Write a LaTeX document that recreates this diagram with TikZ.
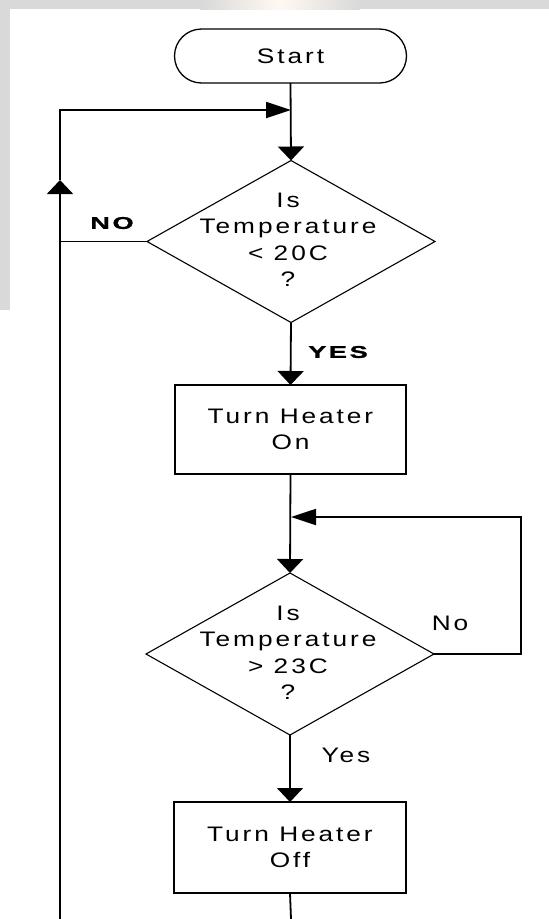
\documentclass[tikz,border=0pt]{standalone}
\usepackage{fontspec}
\setmainfont{Liberation Sans}[FakeStretch=1.25, LetterSpace=14]
\newfontfamily\tagfont{Liberation Sans}[FakeStretch=1.6, LetterSpace=15, FakeBold=1.2]
\usetikzlibrary{shapes.geometric, arrows.meta}

\tikzset{
  flow/.style={line width=1.8pt, draw=black},
  vtip/.style={-{Triangle[width=26pt,length=14pt]}},
  htip/.style={-{Triangle[width=16pt,length=25pt]}},
  terminal/.style={draw, line width=1.3pt, rectangle, rounded corners=27pt,
    minimum width=232pt, minimum height=54pt, outer sep=0pt,
    font=\fontsize{21}{24}\selectfont},
  process/.style={draw, line width=1.8pt, rectangle, minimum width=231pt,
    minimum height=89pt, outer sep=0pt, align=center,
    font=\fontsize{21}{26.5}\selectfont},
  decision/.style={draw, diamond, line width=1.1pt, minimum width=288pt,
    minimum height=162pt, inner sep=0pt, outer sep=0pt},
  body/.style={align=center, inner sep=0pt, font=\fontsize{21}{26.5}\selectfont},
  tag/.style={inner sep=0pt, font=\tagfont\bfseries\fontsize{17}{18}\selectfont},
  note/.style={inner sep=0pt, font=\fontsize{21}{24}\selectfont},
}

\begin{document}
\begin{tikzpicture}[x=1pt, y=-1pt]
\useasboundingbox (0,0) rectangle (549,919);

% page margin strips
\fill[gray!30] (0,0) rectangle (549,9);
\fill[gray!30] (0,0) rectangle (10,310);
\shade[left color=gray!30, right color=gray!30, middle color=orange!5]
  (200,0) rectangle (360,9);

% flowchart nodes
\node[terminal] (start) at (290.5,56) {Start};
\node[decision] (d1) at (291,241.5) {};
\node[body] (d1t) at (288,240) {Is\\Temperature\\< 20C\\?};
\node[process] (on) at (290.5,429.5) {Turn Heater\\On};
\node[decision] (d2) at (290,654) {};
\node[body] (d2t) at (288,653) {Is\\Temperature\\> 23C\\?};
\node[process, minimum width=232pt, minimum height=91pt] (off) at (290,847.5) {Turn Heater\\Off};

% branch labels
\node[tag] (no1) at (112,223) {NO};
\node[tag] (yes1) at (338,352) {YES};
\node[note] (no2) at (450,623) {No};
\node[note] (yes2) at (346,755) {Yes};

% junctions and corners
\coordinate (join1) at (291,110);
\coordinate (lc) at (60,110);
\coordinate (lup) at (60,180);
\coordinate (lbot) at (60,919);
\coordinate (join2) at (291,517);
\coordinate (rc) at (521,517);
\coordinate (cbot) at (291,919);

% connectors
\draw[flow, vtip] (start.south) -- (d1.north);
\draw[flow, vtip] (lbot) -- (lup);
\draw[flow, htip] (lup) -- (lc) -- (join1);
\draw[flow] (d1.west) -- (d1.west -| lc);
\draw[flow, vtip] (d1.south) -- (on.north);
\draw[flow, vtip] (on.south) -- (d2.north);
\draw[flow, htip] (d2.east) -- (d2.east -| rc) -- (rc) -- (join2);
\draw[flow, vtip] (d2.south) -- (off.north);
\draw[flow] (off.south) -- (cbot);
\end{tikzpicture}
\end{document}
